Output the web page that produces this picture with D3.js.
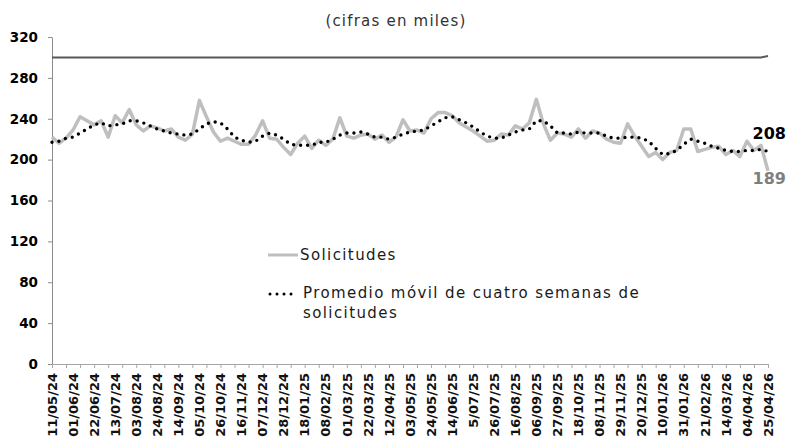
<!DOCTYPE html>
<html>
<head>
<meta charset="utf-8">
<script src="https://cdn.jsdelivr.net/npm/d3@7"></script>
<style>
  body { margin: 0; background: #fff; }
  text { font-family: "DejaVu Sans", sans-serif; }
</style>
</head>
<body>
<svg id="chart" width="787" height="438"></svg>
<script>
// semanas (categorias)
var weeks = [
  "11/05/24","18/05/24","25/05/24","01/06/24","08/06/24","15/06/24","22/06/24","29/06/24","06/07/24","13/07/24",
  "20/07/24","27/07/24","03/08/24","10/08/24","17/08/24","24/08/24","31/08/24","07/09/24","14/09/24","21/09/24",
  "28/09/24","05/10/24","12/10/24","19/10/24","26/10/24","02/11/24","09/11/24","16/11/24","23/11/24","30/11/24",
  "07/12/24","14/12/24","21/12/24","28/12/24","04/01/25","11/01/25","18/01/25","25/01/25","01/02/25","08/02/25",
  "15/02/25","22/02/25","01/03/25","08/03/25","15/03/25","22/03/25","29/03/25","05/04/25","12/04/25","19/04/25",
  "26/04/25","03/05/25","10/05/25","17/05/25","24/05/25","31/05/25","07/06/25","14/06/25","21/06/25","28/06/25",
  "05/07/25","12/07/25","19/07/25","26/07/25","02/08/25","09/08/25","16/08/25","23/08/25","30/08/25","06/09/25",
  "13/09/25","20/09/25","27/09/25","04/10/25","11/10/25","18/10/25","25/10/25","01/11/25","08/11/25","15/11/25",
  "22/11/25","29/11/25","06/12/25","13/12/25","20/12/25","27/12/25","03/01/26","10/01/26","17/01/26","24/01/26",
  "31/01/26","07/02/26","14/02/26","21/02/26","28/02/26","07/03/26","14/03/26","21/03/26","28/03/26","04/04/26",
  "11/04/26","18/04/26","25/04/26"
];

// etiquetas del eje x (cada tres semanas)
var tickLabels = [
  "11/05/24","01/06/24","22/06/24","13/07/24","03/08/24","24/08/24","14/09/24","05/10/24","26/10/24","16/11/24",
  "07/12/24","28/12/24","18/01/25","08/02/25","01/03/25","22/03/25","12/04/25","03/05/25","24/05/25","14/06/25",
  "5/07/25","26/07/25","16/08/25","06/09/25","27/09/25","18/10/25","08/11/25","29/11/25","20/12/25","10/01/26",
  "31/01/26","21/02/26","14/03/26","04/04/26","25/04/26"
];

// solicitudes semanales (miles)
var solicitudes = [
  222,216,221,229,242,238,234,238,222,243,
  236,249,234,228,233,231,228,230,222,219,
  225,258,242,227,218,221,218,215,215,224,
  238,221,220,212,205,216,223,211,219,214,
  220,241,223,221,224,225,220,224,217,222,
  239,228,229,226,240,246,246,243,236,232,
  228,223,218,219,225,224,233,230,236,259,
  235,219,226,225,222,230,221,228,226,220,
  217,216,235,223,213,203,207,200,207,209,
  230,230,208,210,212,213,205,209,203,218,
  209,214,189
];

// promedio movil de cuatro semanas (miles)
var promedio = [
  217,218,221,222,226,230,234,236,233,234,
  235,238,238,236,233,230,228,226,225,224,
  225,230,235,237,236,230,222,219,217,218,
  223,226,224,220,215,214,214,214,217,217,
  220,224,226,226,227,225,222,222,220,222,
  225,227,228,229,233,237,241,242,239,236,
  232,227,223,221,221,224,227,229,230,238,
  238,233,226,226,225,227,226,226,226,223,
  221,221,222,222,221,218,211,205,206,209,
  215,220,218,216,213,211,209,208,208,209,
  209,210,208
];

// linea de referencia
var refLevel = 300;
var refLast = 301.5;

var yTicks = [0, 40, 80, 120, 160, 200, 240, 280, 320];

var svg = d3.select("svg#chart");

// escalas
var x = d3.scalePoint()
  .domain(weeks)
  .range([52, 768]);
var y = d3.scaleLinear()
  .domain([0, 320])
  .range([364, 37]);

// titulo
svg.append("text")
  .attr("x", 396)
  .attr("y", 26)
  .attr("text-anchor", "middle")
  .style("font-size", "15px")
  .style("letter-spacing", "1.2px")
  .style("fill", "#333")
  .text("(cifras en miles)");

// eje y
var yAxis = svg.append("g")
  .attr("transform", "translate(52,0)")
  .call(d3.axisLeft(y).tickValues(yTicks).tickSize(4).tickPadding(10).tickSizeOuter(0));
yAxis.select(".domain").attr("stroke", "#8c8c8c");
yAxis.selectAll(".tick line").attr("stroke", "#8c8c8c");
yAxis.selectAll("text")
  .style("font-family", "DejaVu Sans")
  .style("font-size", "13.5px")
  .style("font-weight", "bold")
  .style("fill", "#000");

// eje x: marcas cada dos semanas
var xAxis = svg.append("g")
  .attr("transform", "translate(0,364)")
  .call(d3.axisBottom(x)
    .tickValues(weeks.filter(function (d, i) { return i % 2 === 0; }))
    .tickSize(4)
    .tickSizeOuter(0)
    .tickFormat(""));
xAxis.select(".domain").attr("stroke", "#a6a6a6");
xAxis.selectAll(".tick line").attr("stroke", "#a6a6a6");

// etiquetas x
svg.append("g")
  .selectAll("text")
  .data(tickLabels)
  .enter().append("text")
  .attr("transform", function (d, i) {
    return "translate(" + x(weeks[i * 3]) + ",373) rotate(-90)";
  })
  .attr("dy", "0.36em")
  .attr("text-anchor", "end")
  .style("font-size", "13px")
  .style("font-weight", "bold")
  .style("fill", "#111")
  .text(function (d) { return d; });

var line = d3.line()
  .x(function (d, i) { return x(weeks[i]); })
  .y(function (d) { return y(d); });

// linea de referencia en 300
svg.append("path")
  .datum(weeks.map(function (d, i) { return i === weeks.length - 1 ? refLast : refLevel; }))
  .attr("d", line)
  .attr("fill", "none")
  .attr("stroke", "#595959")
  .attr("stroke-width", 2);

// solicitudes
svg.append("path")
  .datum(solicitudes)
  .attr("d", line)
  .attr("fill", "none")
  .attr("stroke", "#bfbfbf")
  .attr("stroke-width", 3.5)
  .attr("stroke-linejoin", "round");

// promedio movil
svg.append("path")
  .datum(promedio)
  .attr("d", line)
  .attr("fill", "none")
  .attr("stroke", "#000")
  .attr("stroke-width", 3.4)
  .attr("stroke-linecap", "round")
  .attr("stroke-dasharray", "0 7");

// etiquetas de los ultimos valores
var last = weeks.length - 1;
svg.append("text")
  .attr("x", x(weeks[last]) + 18)
  .attr("y", y(promedio[last]) - 12)
  .attr("text-anchor", "end")
  .style("font-size", "16px")
  .style("font-weight", "bold")
  .style("fill", "#000")
  .text(promedio[last]);
svg.append("text")
  .attr("x", x(weeks[last]) + 18)
  .attr("y", y(solicitudes[last]) + 13)
  .attr("text-anchor", "end")
  .style("font-size", "16px")
  .style("font-weight", "bold")
  .style("fill", "#7f7f7f")
  .text(solicitudes[last]);

// leyenda
var legend = svg.append("g");
legend.append("line")
  .attr("x1", 268).attr("x2", 298)
  .attr("y1", 255).attr("y2", 255)
  .attr("stroke", "#bfbfbf")
  .attr("stroke-width", 3);
legend.append("text")
  .attr("x", 300)
  .attr("y", 260)
  .style("font-size", "15px")
  .style("letter-spacing", "1.4px")
  .style("fill", "#1a1a1a")
  .text("Solicitudes");
legend.append("line")
  .attr("x1", 270).attr("x2", 296)
  .attr("y1", 294).attr("y2", 294)
  .attr("stroke", "#000")
  .attr("stroke-width", 3)
  .attr("stroke-linecap", "round")
  .attr("stroke-dasharray", "0 7");
legend.append("text")
  .attr("x", 303)
  .attr("y", 298)
  .style("font-size", "15px")
  .style("letter-spacing", "1.4px")
  .style("fill", "#1a1a1a")
  .text("Promedio móvil de cuatro semanas de");
legend.append("text")
  .attr("x", 303)
  .attr("y", 318)
  .style("font-size", "15px")
  .style("letter-spacing", "1.4px")
  .style("fill", "#1a1a1a")
  .text("solicitudes");
</script>
</body>
</html>
